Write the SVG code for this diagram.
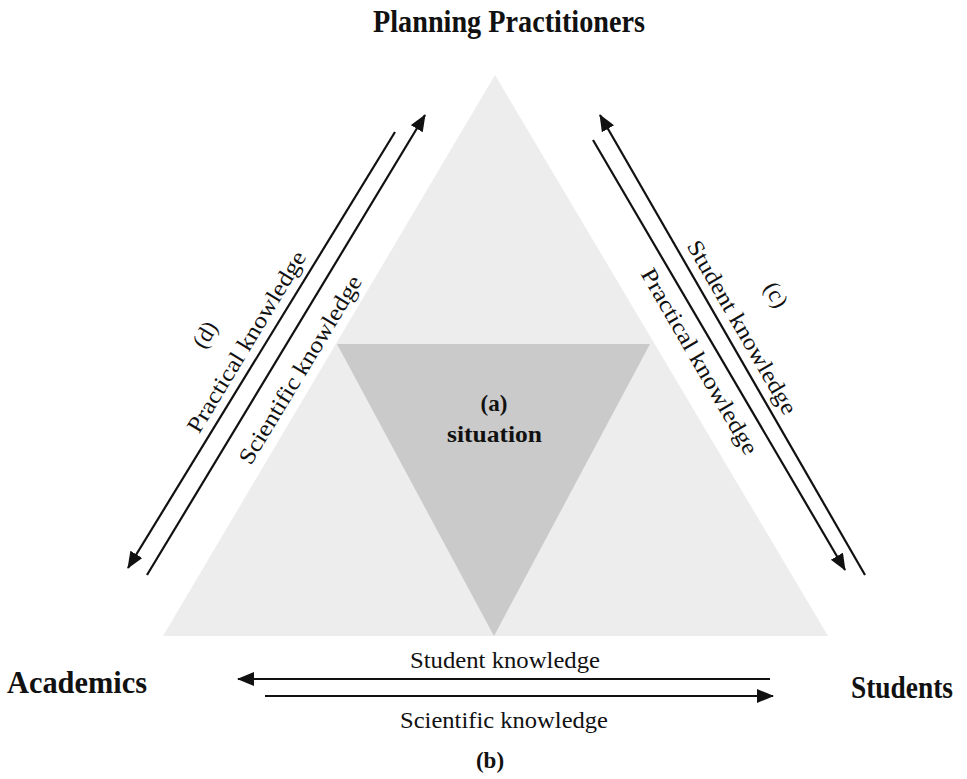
<svg xmlns="http://www.w3.org/2000/svg" width="967" height="779" viewBox="0 0 967 779">
<style>
text{font-family:"Liberation Serif","Times New Roman",serif;fill:#111}
.lbl{font-size:23px}
.bold{font-weight:bold}
.ttl{font-size:31px;font-weight:bold}
.con{stroke:#111;stroke-width:2.2;fill:none}
</style>
<defs>
<marker id="ah" markerUnits="userSpaceOnUse" markerWidth="18" markerHeight="16" refX="16" refY="7" orient="auto">
<path d="M0,0 L17,7 L0,14 z" fill="#111"/>
</marker>
</defs>
<rect width="967" height="779" fill="#fff"/>
<g id="outer-triangle"><polygon points="495,75 163,636 828,636" fill="#ededed"/></g>
<g id="situation"><polygon points="337,344 650,344 494,636" fill="#cacaca"/>
<text class="lbl bold" x="494" y="411" text-anchor="middle">(a)</text>
<text class="lbl bold" x="494.5" y="442" text-anchor="middle" textLength="95" lengthAdjust="spacingAndGlyphs">situation</text></g>
<g id="planning-practitioners"><text class="ttl" x="509" y="32" text-anchor="middle" textLength="272" lengthAdjust="spacingAndGlyphs">Planning Practitioners</text></g>
<g id="academics"><text class="ttl" x="77" y="693" text-anchor="middle" textLength="140" lengthAdjust="spacingAndGlyphs">Academics</text></g>
<g id="students"><text class="ttl" x="902" y="698" text-anchor="middle" textLength="102" lengthAdjust="spacingAndGlyphs">Students</text></g>
<g id="connectors">
<line class="con" x1="395" y1="132" x2="128" y2="568" marker-end="url(#ah)"/>
<line class="con" x1="147" y1="575" x2="425" y2="115" marker-end="url(#ah)"/>
<line class="con" x1="865" y1="575" x2="600" y2="115" marker-end="url(#ah)"/>
<line class="con" x1="593" y1="140" x2="845" y2="570" marker-end="url(#ah)"/>
<line class="con" x1="770" y1="679" x2="238" y2="679" marker-end="url(#ah)"/>
<line class="con" x1="265" y1="696" x2="773" y2="696" marker-end="url(#ah)"/>
<g transform="translate(247,342) rotate(-58.8)"><text class="lbl" x="0" y="7" text-anchor="middle" textLength="208" lengthAdjust="spacingAndGlyphs">Practical knowledge</text></g>
<g transform="translate(300.7,370) rotate(-58.8)"><text class="lbl" x="0" y="7" text-anchor="middle" textLength="216" lengthAdjust="spacingAndGlyphs">Scientific knowledge</text></g>
<g transform="translate(205.5,335) rotate(-58.8)"><text class="lbl" x="0" y="7" text-anchor="middle">(d)</text></g>
<g transform="translate(741.5,327.5) rotate(60)"><text class="lbl" x="0" y="7" text-anchor="middle" textLength="197" lengthAdjust="spacingAndGlyphs">Student knowledge</text></g>
<g transform="translate(699,361.5) rotate(60)"><text class="lbl" x="0" y="7" text-anchor="middle" textLength="211" lengthAdjust="spacingAndGlyphs">Practical knowledge</text></g>
<g transform="translate(775.7,295) rotate(60)"><text class="lbl" x="0" y="7" text-anchor="middle">(c)</text></g>
<text class="lbl" x="505" y="668" text-anchor="middle" textLength="190" lengthAdjust="spacingAndGlyphs">Student knowledge</text>
<text class="lbl" x="504" y="728" text-anchor="middle" textLength="208" lengthAdjust="spacingAndGlyphs">Scientific knowledge</text>
<text class="lbl bold" x="490" y="768" text-anchor="middle">(b)</text>
</g>
</svg>
